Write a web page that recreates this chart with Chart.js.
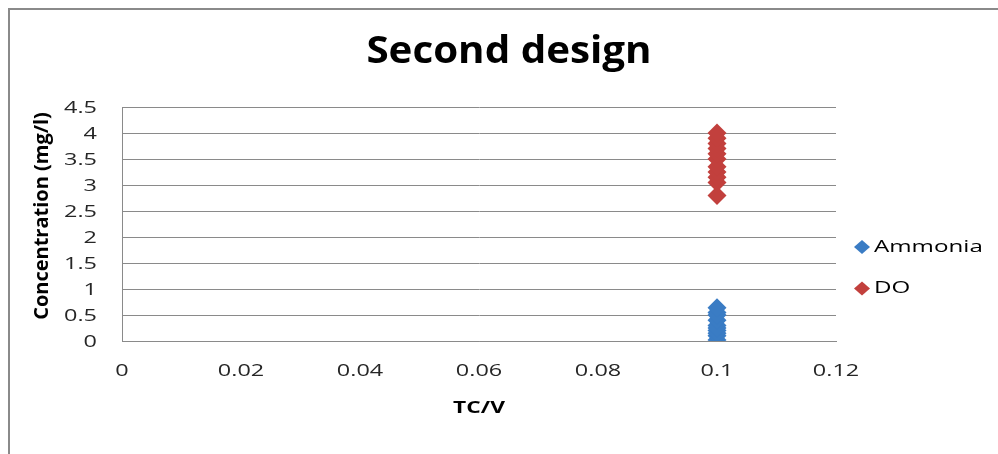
<!DOCTYPE html>
<html>
<head>
<meta charset="utf-8">
<script src="https://cdn.jsdelivr.net/npm/chart.js@4/dist/chart.umd.min.js"></script>
<style>
  html, body { margin: 0; padding: 0; background: #ffffff; }
  #wrap { width: 998px; height: 454px; position: relative; }
</style>
</head>
<body>
<div id="wrap"><canvas id="chart" width="998" height="454"></canvas></div>
<script>
// Sampling point (TC/V) and measured concentrations (mg/l)
const tcv = 0.1;
const ammonia = [0.02, 0.1, 0.15, 0.2, 0.25, 0.3, 0.4, 0.5, 0.55, 0.64];
const dissolvedOxygen = [2.8, 3.05, 3.15, 3.25, 3.35, 3.5, 3.6, 3.7, 3.8, 3.9, 4.0];
const seriesNames = ['Ammonia', 'DO'];
const seriesColors = ['#3a7cc4', '#c2403d'];
const xTicks = [0, 0.02, 0.04, 0.06, 0.08, 0.1, 0.12];
const yTicks = [0, 0.5, 1, 1.5, 2, 2.5, 3, 3.5, 4, 4.5];
const chartTitle = 'Second design';
const xTitle = 'TC/V';
const yTitle = 'Concentration (mg/l)';

const FONT = '"Open Sans", "Liberation Sans", sans-serif';
const TEXT_SX = 1.42;   // labels are set in a widened face

const toPoints = vals => vals.map(v => ({ x: tcv, y: v }));

function wideText(ctx, text, x, y, opts) {
  ctx.save();
  ctx.translate(x, y);
  ctx.scale(opts.sx || 1, 1);
  if (opts.rotate) ctx.rotate(opts.rotate);
  ctx.font = opts.font;
  ctx.fillStyle = opts.color || '#000000';
  ctx.textAlign = opts.align || 'center';
  ctx.textBaseline = opts.baseline || 'middle';
  ctx.fillText(text, 0, 0);
  ctx.restore();
}

// Frame, tick labels, titles and legend
const labelsPlugin = {
  id: 'labels',
  beforeDraw(chart) {
    const ctx = chart.ctx;
    ctx.save();
    ctx.strokeStyle = '#8a8a8a';
    ctx.lineWidth = 2;
    ctx.beginPath();
    ctx.moveTo(9, 454);
    ctx.lineTo(9, 9);
    ctx.lineTo(998, 9);
    ctx.stroke();
    ctx.restore();
  },
  afterDraw(chart) {
    const ctx = chart.ctx;
    const xs = chart.scales.x, ys = chart.scales.y, area = chart.chartArea;
    const tickFont = '16.5px ' + FONT;

    yTicks.forEach(v => {
      wideText(ctx, String(v), area.left - 25, ys.getPixelForValue(v) + 1,
        { font: tickFont, sx: TEXT_SX, align: 'right', color: '#262626' });
    });
    xTicks.forEach(v => {
      wideText(ctx, String(v), xs.getPixelForValue(v), area.bottom + 30,
        { font: tickFont, sx: TEXT_SX, align: 'center', color: '#262626' });
    });

    wideText(ctx, chartTitle, 509, 52,
      { font: 'bold 37px ' + FONT, sx: 1.09, align: 'center' });
    wideText(ctx, xTitle, (area.left + area.right) / 2, area.bottom + 67,
      { font: 'bold 16px ' + FONT, sx: TEXT_SX, align: 'center' });
    wideText(ctx, yTitle, 42, 216,
      { font: 'bold 20px ' + FONT, sx: 1, rotate: -Math.PI / 2, align: 'center' });

    const rows = [247, 288.5];
    chart.data.datasets.forEach((ds, i) => {
      const y = rows[i], x = 862;
      ctx.save();
      ctx.fillStyle = ds.backgroundColor;
      ctx.beginPath();
      ctx.moveTo(x - 8, y);
      ctx.lineTo(x, y - 7);
      ctx.lineTo(x + 8, y);
      ctx.lineTo(x, y + 7);
      ctx.closePath();
      ctx.fill();
      ctx.restore();
      wideText(ctx, ds.label, 874, y,
        { font: '17px ' + FONT, sx: TEXT_SX, align: 'left', color: '#000000' });
    });
  }
};

new Chart(document.getElementById('chart'), {
  type: 'scatter',
  data: {
    datasets: [
      {
        label: seriesNames[0],
        data: toPoints(ammonia),
        backgroundColor: seriesColors[0],
        borderColor: seriesColors[0],
        pointStyle: 'rectRot',
        pointRadius: 9.5,
        borderWidth: 0
      },
      {
        label: seriesNames[1],
        data: toPoints(dissolvedOxygen),
        backgroundColor: seriesColors[1],
        borderColor: seriesColors[1],
        pointStyle: 'rectRot',
        pointRadius: 9.5,
        borderWidth: 0
      }
    ]
  },
  options: {
    responsive: false,
    animation: false,
    devicePixelRatio: 1,
    layout: { padding: { left: 0, right: 162, top: 107, bottom: 0 } },
    plugins: {
      legend: { display: false },
      tooltip: { enabled: false },
      title: { display: false }
    },
    scales: {
      x: {
        type: 'linear',
        min: 0,
        max: 0.12,
        afterBuildTicks(scale) { scale.ticks = xTicks.map(v => ({ value: v })); },
        afterFit(scale) { scale.height = 113; },
        grid: { display: false, drawTicks: false },
        border: { display: true, color: '#8a8a8a', width: 1 },
        ticks: { display: false }
      },
      y: {
        type: 'linear',
        min: 0,
        max: 4.5,
        afterBuildTicks(scale) { scale.ticks = yTicks.map(v => ({ value: v })); },
        afterFit(scale) { scale.width = 122; },
        grid: { color: '#8a8a8a', lineWidth: 1, drawTicks: false },
        border: { display: true, color: '#8a8a8a', width: 1 },
        ticks: { display: false }
      }
    }
  },
  plugins: [labelsPlugin]
});
</script>
</body>
</html>
